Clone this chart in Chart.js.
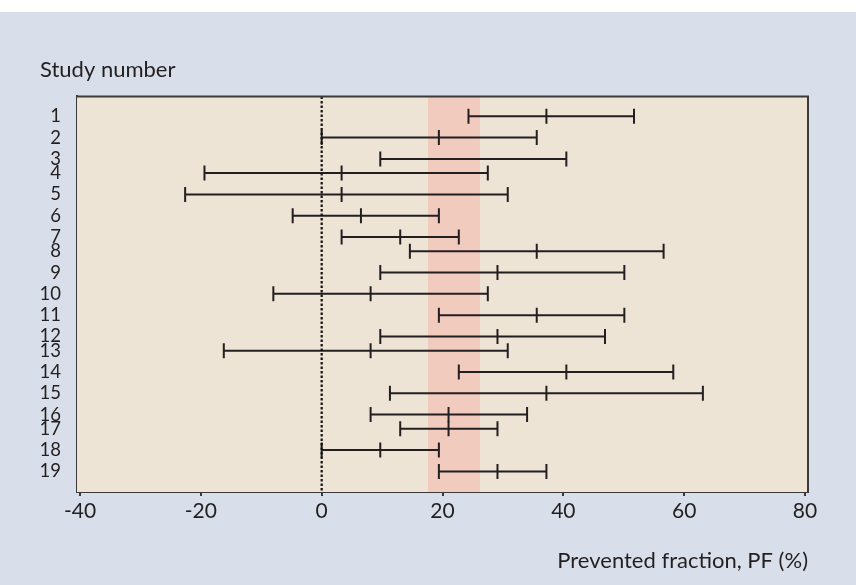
<!DOCTYPE html>
<html>
<head>
<meta charset="utf-8">
<title>Prevented fraction by study</title>
<script src="https://cdn.jsdelivr.net/npm/chart.js@4.4.1/dist/chart.umd.min.js"></script>
<style>
    html, body { margin: 0; padding: 0; background: #ffffff; }
    #wrap { position: absolute; left: 0; top: 12px; width: 856px; height: 573px; background: #d9dfea; }
</style>
</head>
<body>
<div id="wrap"><canvas id="forest"></canvas></div>
<script>
// --- DATA ---
const studyNumbers = [1, 2, 3, 4, 5, 6, 7, 8, 9, 10, 11, 12, 13, 14, 15, 16, 17, 18, 19];
// vertical position of each study row (rows are not evenly spaced in the figure)
const rowY = [0, 3, 6, 8, 11, 14, 17, 19, 22, 25, 28, 31, 33, 36, 39, 42, 44, 47, 50];
const lowerPF = [24.3, 0, 9.7, -19.4, -22.6, -4.8, 3.3, 14.6, 9.7, -8.0, 19.4, 9.7, -16.2, 22.7, 11.3, 8.1, 13.0, 0, 19.4];
const pointPF = [37.2, 19.4, null, 3.3, 3.3, 6.5, 13.0, 35.6, 29.1, 8.1, 35.6, 29.1, 8.1, 40.5, 37.2, 21.0, 21.0, 9.7, 29.1];
const upperPF = [51.7, 35.6, 40.5, 27.5, 30.8, 19.4, 22.7, 56.6, 50.1, 27.5, 50.1, 46.9, 30.8, 58.2, 63.1, 34.0, 29.1, 19.4, 37.2];
const xTicks = [-40, -20, 0, 20, 40, 60, 80];
const pooledBand = [17.6, 26.2];   // shaded pooled range
const nullLine = 0;

// --- COLORS ---
const colors = {
    ink: '#231f20',
    frame: '#3a3a3a',
    plotBg: '#ede4d6',
    band: '#f2cbbf'
};

const X_MIN = -40.5, X_MAX = 80.5;
const Y_MIN = -2.8, Y_MAX = 52.9;

// --- DATASETS ---
const datasets = [];

// dotted no-effect line
datasets.push({
    data: [{ x: nullLine, y: Y_MIN }, { x: nullLine, y: Y_MAX }],
    showLine: true,
    borderColor: '#111111',
    borderWidth: 2.2,
    borderDash: [2.5, 2],
    pointRadius: 0
});

// CI lines
rowY.forEach((y, i) => {
    datasets.push({
        data: [{ x: lowerPF[i], y: y }, { x: upperPF[i], y: y }],
        showLine: true,
        borderColor: colors.ink,
        borderWidth: 2,
        pointRadius: 0
    });
});

// end caps + point estimates drawn as vertical ticks
const tickMarks = [];
rowY.forEach((y, i) => {
    tickMarks.push({ x: lowerPF[i], y: y });
    tickMarks.push({ x: upperPF[i], y: y });
    if (pointPF[i] !== null) tickMarks.push({ x: pointPF[i], y: y });
});
datasets.push({
    data: tickMarks,
    pointStyle: 'line',
    rotation: 90,
    pointRadius: 7.5,
    borderColor: colors.ink,
    borderWidth: 2
});

// --- PLUGINS ---
const plotBackground = {
    id: 'plotBackground',
    beforeDatasetsDraw(chart) {
        const { ctx, chartArea, scales } = chart;
        ctx.save();
        ctx.fillStyle = colors.plotBg;
        ctx.fillRect(chartArea.left, chartArea.top, chartArea.width, chartArea.height);
        const bx0 = scales.x.getPixelForValue(pooledBand[0]);
        const bx1 = scales.x.getPixelForValue(pooledBand[1]);
        ctx.fillStyle = colors.band;
        ctx.fillRect(bx0, chartArea.top, bx1 - bx0, chartArea.height);
        ctx.restore();
    },
    afterDatasetsDraw(chart) {
        // top and right edges of the frame
        const { ctx, chartArea } = chart;
        ctx.save();
        ctx.strokeStyle = colors.frame;
        ctx.lineWidth = 2;
        ctx.beginPath();
        ctx.moveTo(chartArea.left, chartArea.top);
        ctx.lineTo(chartArea.right, chartArea.top);
        ctx.lineTo(chartArea.right, chartArea.bottom);
        ctx.stroke();
        ctx.restore();
    }
};

// --- CHART ---
const font = "Lato, 'Open Sans', sans-serif";

new Chart(document.getElementById('forest'), {
    type: 'scatter',
    data: { datasets: datasets },
    plugins: [plotBackground],
    options: {
        responsive: true,
        maintainAspectRatio: false,
        animation: false,
        layout: { padding: { left: 40, right: 48, top: 33, bottom: 0 } },
        plugins: {
            legend: { display: false },
            tooltip: { enabled: false },
            title: {
                display: true,
                text: 'Study number',
                align: 'start',
                color: colors.ink,
                font: { family: font, size: 22, weight: 'normal' },
                padding: { top: 12, bottom: 13 }
            }
        },
        scales: {
            x: {
                type: 'linear',
                min: X_MIN,
                max: X_MAX,
                afterBuildTicks: (s) => { s.ticks = xTicks.map(v => ({ value: v })); },
                afterFit: (s) => { s.height = 93; },
                grid: { drawOnChartArea: false, drawTicks: true, tickLength: 4, color: colors.frame, lineWidth: 2 },
                border: { display: true, color: colors.frame, width: 2 },
                ticks: {
                    color: colors.ink,
                    padding: 3,
                    maxRotation: 0,
                    font: { family: font, size: 21 }
                },
                title: {
                    display: true,
                    text: 'Prevented fraction, PF (%)',
                    align: 'end',
                    color: colors.ink,
                    font: { family: font, size: 22 },
                    padding: { top: 0, bottom: 11 }
                }
            },
            y: {
                type: 'linear',
                reverse: true,
                min: Y_MIN,
                max: Y_MAX,
                afterBuildTicks: (s) => { s.ticks = rowY.map(v => ({ value: v })); },
                afterFit: (s) => { s.width = 37; },
                grid: { display: false, drawTicks: false },
                border: { display: true, color: colors.frame, width: 2 },
                ticks: {
                    color: colors.ink,
                    padding: 16,
                    autoSkip: false,
                    font: { family: font, size: 18.5 },
                    callback: (value) => studyNumbers[rowY.indexOf(value)]
                }
            }
        }
    }
});
</script>
</body>
</html>
